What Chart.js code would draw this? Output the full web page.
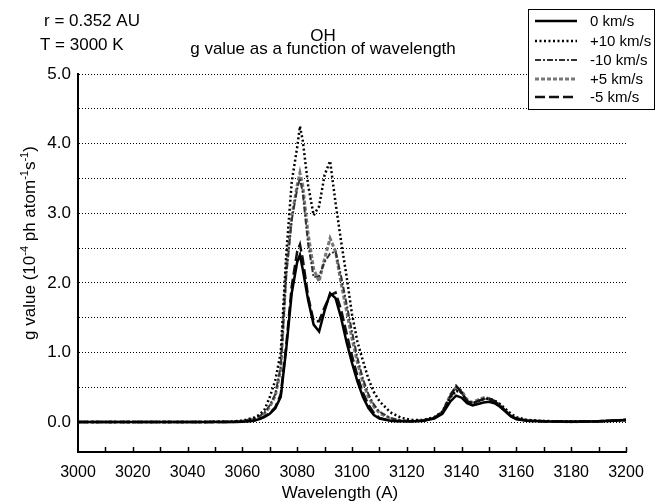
<!DOCTYPE html>
<html lang="en">
<head>
    <meta charset="UTF-8">
    <title>OH g value as a function of wavelength</title>
    <script src="https://cdn.jsdelivr.net/npm/chart.js"></script>
    <style>
        body { margin: 0; background: #fff; }
    </style>
</head>
<body>
    <canvas id="myChart" width="656" height="504"></canvas>

    <script>
        // wavelength (A), uneven sampling: denser near the band
        const wavelength = [3000, 3020, 3040, 3055, 3060, 3064, 3066, 3068, 3070, 3072,
            3074, 3076, 3078, 3080, 3081, 3082, 3084, 3086, 3088, 3090,
            3092, 3094, 3096, 3098, 3100, 3102, 3104, 3106, 3108, 3110,
            3114, 3118, 3122, 3126, 3130, 3133, 3136, 3138, 3140, 3142,
            3144, 3146, 3148, 3150, 3152, 3154, 3156, 3158, 3160, 3164,
            3170, 3180, 3190, 3200];

        // g values (10^-4 ph atom^-1 s^-1) for each heliocentric velocity
        const g0 = [0, 0, 0, 0, 0.005, 0.02, 0.04, 0.07, 0.12, 0.2,
            0.36, 1.05, 1.85, 2.3, 2.4, 2.2, 1.75, 1.4, 1.3, 1.6,
            1.85, 1.78, 1.5, 1.15, 0.85, 0.58, 0.36, 0.2, 0.1, 0.05,
            0.02, 0.01, 0.01, 0.02, 0.05, 0.12, 0.3, 0.38, 0.35, 0.27,
            0.24, 0.26, 0.28, 0.29, 0.27, 0.22, 0.15, 0.08, 0.04, 0.02,
            0.01, 0.005, 0.01, 0.03];
        const gPlus10 = [0, 0, 0, 0.005, 0.02, 0.06, 0.1, 0.17, 0.36, 0.6,
            1.0, 2.4, 3.45, 3.95, 4.25, 4.05, 3.4, 2.97, 3.1, 3.55,
            3.75, 3.15, 2.6, 2.1, 1.55, 1.15, 0.88, 0.62, 0.43, 0.3,
            0.14, 0.06, 0.03, 0.03, 0.07, 0.15, 0.36, 0.45, 0.42, 0.3,
            0.27, 0.3, 0.33, 0.34, 0.31, 0.26, 0.19, 0.12, 0.07, 0.03,
            0.015, 0.01, 0.01, 0.03];
        const gMinus10 = [0, 0, 0, 0.005, 0.015, 0.05, 0.08, 0.13, 0.24, 0.4,
            0.8, 2.1, 2.9, 3.35, 3.5, 3.3, 2.55, 2.08, 2.1, 2.3,
            2.42, 2.45, 2.1, 1.7, 1.3, 0.92, 0.62, 0.4, 0.25, 0.15,
            0.06, 0.02, 0.01, 0.02, 0.06, 0.14, 0.36, 0.46, 0.42, 0.3,
            0.27, 0.3, 0.33, 0.33, 0.3, 0.24, 0.16, 0.09, 0.05, 0.02,
            0.01, 0.005, 0.01, 0.03];
        const gPlus5 = [0, 0, 0, 0.005, 0.01, 0.04, 0.07, 0.12, 0.22, 0.38,
            0.75, 2.2, 2.95, 3.4, 3.58, 3.4, 2.7, 2.2, 2.02, 2.35,
            2.64, 2.45, 2.0, 1.6, 1.2, 0.85, 0.57, 0.36, 0.22, 0.13,
            0.05, 0.02, 0.01, 0.02, 0.06, 0.14, 0.4, 0.5, 0.45, 0.32,
            0.28, 0.32, 0.35, 0.34, 0.3, 0.24, 0.16, 0.09, 0.05, 0.02,
            0.01, 0.005, 0.01, 0.03];
        const gMinus5 = [0, 0, 0, 0, 0.005, 0.02, 0.04, 0.08, 0.13, 0.21,
            0.4, 1.1, 1.95, 2.45, 2.55, 2.35, 1.8, 1.45, 1.45, 1.65,
            1.82, 1.86, 1.62, 1.28, 0.95, 0.66, 0.42, 0.25, 0.13, 0.06,
            0.02, 0.01, 0.01, 0.02, 0.06, 0.14, 0.38, 0.52, 0.43, 0.3,
            0.27, 0.3, 0.33, 0.33, 0.3, 0.24, 0.16, 0.09, 0.05, 0.02,
            0.01, 0.005, 0.01, 0.03];

        const seriesLabels = ['0 km/s', '+10 km/s', '-10 km/s', '+5 km/s', '-5 km/s'];
        const yTicks = [0, 0.5, 1, 1.5, 2, 2.5, 3, 3.5, 4, 4.5, 5];
        const xMinorTicks = [3010, 3020, 3030, 3040, 3050, 3060, 3070, 3080, 3090, 3100,
            3110, 3120, 3130, 3140, 3150, 3160, 3170, 3180, 3190, 3200];

        const FONT = '"Liberation Sans", Arial, Helvetica, sans-serif';

        function toPoints(values) {
            return values.map((v, i) => ({ x: wavelength[i], y: v }));
        }

        // text, legend, inward ticks and axis titles
        const decorations = {
            id: 'decorations',
            afterDraw(chart) {
                const ctx = chart.ctx;
                const xs = chart.scales.x;
                const area = chart.chartArea;
                ctx.save();

                // inward tick marks on the wavelength axis
                ctx.strokeStyle = '#000';
                ctx.lineWidth = 1.5;
                ctx.beginPath();
                xMinorTicks.forEach(v => {
                    const px = Math.round(xs.getPixelForValue(v)) + 0.5;
                    ctx.moveTo(px, area.bottom);
                    ctx.lineTo(px, area.bottom - 5);
                });
                ctx.stroke();

                ctx.fillStyle = '#000';
                ctx.font = '17px ' + FONT;
                ctx.textBaseline = 'alphabetic';
                ctx.textAlign = 'left';
                ctx.fillText('r = 0.352 AU', 44, 26);
                ctx.fillText('T = 3000 K', 40, 50);
                ctx.textAlign = 'center';
                ctx.fillText('OH', 323, 41);
                ctx.fillText('g value as a function of wavelength', 323, 54);

                // x axis title
                ctx.fillText('Wavelength (A)', 340, 498);

                // y axis title with superscripts
                const parts = [
                    ['g value (10', false], ['-4', true], [' ph atom', false],
                    ['-1', true], ['s', false], ['-1', true], [')', false]
                ];
                let total = 0;
                parts.forEach(p => {
                    ctx.font = (p[1] ? '11px ' : '17px ') + FONT;
                    total += ctx.measureText(p[0]).width;
                });
                ctx.translate(35, 243);
                ctx.rotate(-Math.PI / 2);
                ctx.textAlign = 'left';
                let pos = -total / 2;
                parts.forEach(p => {
                    ctx.font = (p[1] ? '11px ' : '17px ') + FONT;
                    ctx.fillText(p[0], pos, p[1] ? -7 : 0);
                    pos += ctx.measureText(p[0]).width;
                });
                ctx.setTransform(1, 0, 0, 1, 0, 0);

                // legend box
                ctx.fillStyle = '#fff';
                ctx.fillRect(528, 9, 126, 100);
                ctx.strokeStyle = '#000';
                ctx.lineWidth = 1;
                ctx.strokeRect(528.5, 9.5, 126, 100);
                const rowY = [21, 41, 60, 79, 97];
                chart.data.datasets.forEach((ds, i) => {
                    ctx.strokeStyle = ds.borderColor;
                    ctx.lineWidth = ds.borderWidth;
                    ctx.setLineDash(ds.borderDash || []);
                    ctx.beginPath();
                    ctx.moveTo(535, rowY[i]);
                    ctx.lineTo(577, rowY[i]);
                    ctx.stroke();
                    ctx.setLineDash([]);
                    ctx.fillStyle = '#000';
                    ctx.font = '15px ' + FONT;
                    ctx.textAlign = 'left';
                    ctx.textBaseline = 'middle';
                    ctx.fillText(seriesLabels[i], 590, rowY[i] + 1);
                });
                ctx.restore();
            }
        };

        const ctx = document.getElementById('myChart').getContext('2d');
        const chart = new Chart(ctx, {
            type: 'line',
            data: {
                datasets: [
                    { label: seriesLabels[0], data: toPoints(g0), borderColor: '#000', borderWidth: 2.5, order: 1 },
                    { label: seriesLabels[1], data: toPoints(gPlus10), borderColor: '#000', borderWidth: 2.5, borderDash: [2, 2.5], order: 3 },
                    { label: seriesLabels[2], data: toPoints(gMinus10), borderColor: '#333', borderWidth: 2, borderDash: [6, 2, 2, 2], order: 4 },
                    { label: seriesLabels[3], data: toPoints(gPlus5), borderColor: '#777', borderWidth: 3, borderDash: [4, 2], order: 5 },
                    { label: seriesLabels[4], data: toPoints(gMinus5), borderColor: '#111', borderWidth: 2.5, borderDash: [10, 4], order: 2 }
                ]
            },
            options: {
                responsive: false,
                animation: false,
                layout: { padding: { top: 74, right: 30, left: 0, bottom: 0 } },
                elements: {
                    point: { radius: 0 },
                    line: { tension: 0, fill: false }
                },
                plugins: {
                    legend: { display: false },
                    tooltip: { enabled: false }
                },
                scales: {
                    x: {
                        type: 'linear',
                        min: 3000,
                        max: 3200,
                        afterFit: s => { s.height = 52; },
                        ticks: {
                            stepSize: 20,
                            color: '#000',
                            font: { family: FONT, size: 16 },
                            padding: 11,
                            maxRotation: 0,
                            callback: v => String(v)
                        },
                        grid: { display: false, drawTicks: false },
                        border: { display: true, color: '#000', width: 2 }
                    },
                    y: {
                        min: -0.43,
                        max: 5,
                        afterFit: s => { s.width = 78; },
                        afterBuildTicks: s => { s.ticks = yTicks.map(v => ({ value: v })); },
                        ticks: {
                            color: '#000',
                            font: { family: FONT, size: 17 },
                            padding: 7,
                            callback: v => Number.isInteger(v) ? v.toFixed(1) : ''
                        },
                        grid: { color: '#000', lineWidth: 1, drawTicks: false },
                        border: { display: true, color: '#000', width: 2, dash: [1, 2] }
                    }
                }
            },
            plugins: [decorations]
        });
    </script>
</body>
</html>
